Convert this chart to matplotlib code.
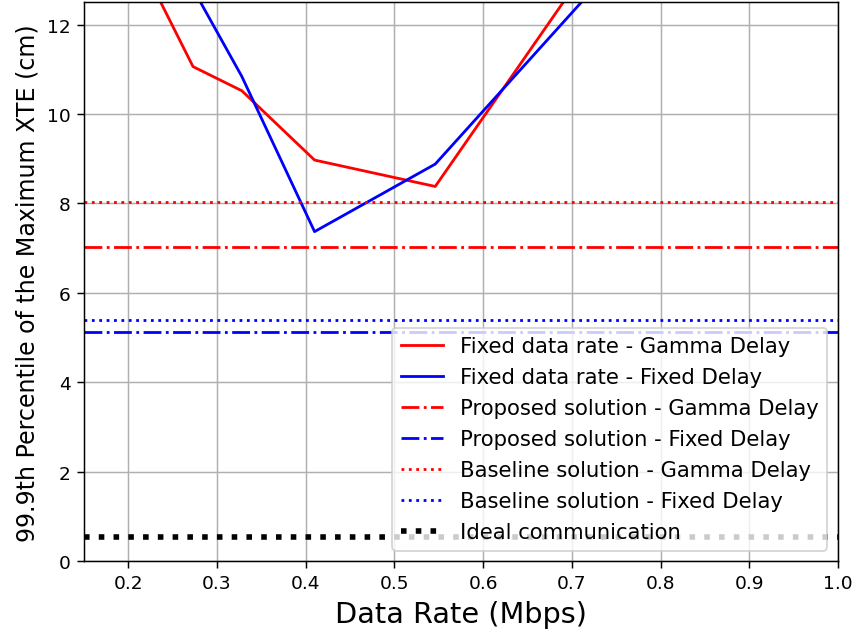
import matplotlib
matplotlib.use('Agg')
import matplotlib.pyplot as plt

# data rates (Mbps) for the fixed data rate runs
rates = [0.205, 0.234, 0.273, 0.328, 0.41, 0.546, 0.82, 1.64]
xte_gamma = [14.0, 12.6, 11.06, 10.52, 8.97, 8.38, 16.2, 30.0]
xte_fixed = [15.5, 14.2, 12.8, 10.84, 7.37, 8.88, 14.9, 28.0]

# reference levels (cm)
proposed_gamma = 7.02
proposed_fixed = 5.13
baseline_gamma = 8.04
baseline_fixed = 5.40
ideal = 0.54

fig = plt.figure(figsize=(6.4, 4.755), dpi=133.75)
ax = fig.add_subplot(111)
fig.subplots_adjust(left=0.098, right=0.979, top=0.995, bottom=0.116)

ax.plot(rates, xte_gamma, 'r-', label='Fixed data rate - Gamma Delay')
ax.plot(rates, xte_fixed, 'b-', label='Fixed data rate - Fixed Delay')
ax.axhline(proposed_gamma, color='r', linestyle='-.', label='Proposed solution - Gamma Delay')
ax.axhline(proposed_fixed, color='b', linestyle='-.', label='Proposed solution - Fixed Delay')
ax.axhline(baseline_gamma, color='r', linestyle=':', label='Baseline solution - Gamma Delay')
ax.axhline(baseline_fixed, color='b', linestyle=':', label='Baseline solution - Fixed Delay')
ax.axhline(ideal, color='k', linestyle=':', linewidth=3, label='Ideal communication')

ax.set_xlim(0.15, 1.0)
ax.set_ylim(0, 12.5)
ax.grid(True)
ax.set_xlabel('Data Rate (Mbps)', fontsize=15.5)
ax.set_ylabel('99.9th Percentile of the Maximum XTE (cm)', fontsize=12.8)
ax.legend(loc='lower right', fontsize=11.4, labelspacing=0.52)

fig.savefig('out.png', dpi=133.75)
